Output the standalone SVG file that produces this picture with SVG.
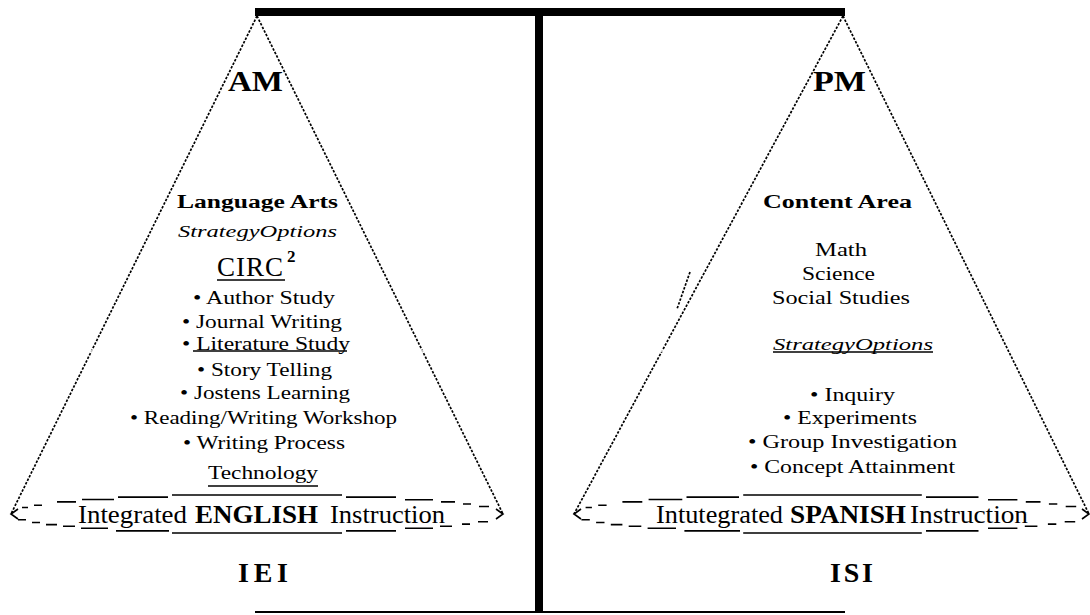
<svg xmlns="http://www.w3.org/2000/svg" width="1090" height="615" viewBox="0 0 1090 615">
<style>
.t{font-family:"Liberation Serif","Times New Roman",serif;fill:#000}
.b{font-weight:bold}
.i{font-style:italic}
.s18{font-size:18px}
.edge{stroke:#000;stroke-width:1.7;stroke-dasharray:2.5 1.5;fill:none}
.dash{stroke:#000;stroke-width:1.6;fill:none}
.ul{stroke:#000;stroke-width:1.3}
.wl{stroke:#fff;stroke-width:1.4}
</style>
<rect width="1090" height="615" fill="#fff"/>
<g id="balance">
<rect x="255" y="8" width="590" height="8" fill="#000"/>
<rect x="535" y="8" width="8" height="605" fill="#000"/>
<rect x="255" y="611" width="590" height="2" fill="#000"/>
</g>
<g id="connectors">
<path class="edge" d="M257 16 L11 514 M257 16 L503 514"/>
<path class="edge" d="M843 16 L574 514 M843 16 L1089 514"/>
<path class="edge" d="M690 272 L677 309"/>
<path class="wl" d="M60 351 H190 M350 351 H470 M610 351 H772"/>
</g>
<g id="am-cone">
<text class="t b" x="228" y="91" font-size="30" textLength="55" lengthAdjust="spacingAndGlyphs">AM</text>
<text class="t b" x="177" y="208" font-size="18" textLength="161" lengthAdjust="spacingAndGlyphs">Language Arts</text>
<text class="t i" x="178" y="237" font-size="17" textLength="159" lengthAdjust="spacingAndGlyphs">StrategyOptions</text>
<text class="t" x="217" y="276" font-size="27" textLength="66">CIRC</text>
<text class="t b" x="287" y="262" font-size="17">2</text>
<line class="ul" x1="217" y1="280" x2="285" y2="280"/>
<text class="t s18" x="193" y="304" textLength="142" lengthAdjust="spacingAndGlyphs">• Author Study</text>
<text class="t s18" x="182" y="328" textLength="160" lengthAdjust="spacingAndGlyphs">• Journal Writing</text>
<text class="t s18" x="182" y="350" textLength="168" lengthAdjust="spacingAndGlyphs">• Literature Study</text>
<line class="ul" x1="193" y1="351" x2="347" y2="351"/>
<text class="t s18" x="197" y="376" textLength="135" lengthAdjust="spacingAndGlyphs">• Story Telling</text>
<text class="t s18" x="180" y="399" textLength="170" lengthAdjust="spacingAndGlyphs">• Jostens Learning</text>
<text class="t s18" x="130" y="424" textLength="267" lengthAdjust="spacingAndGlyphs">• Reading/Writing Workshop</text>
<text class="t s18" x="183" y="449" textLength="162" lengthAdjust="spacingAndGlyphs">• Writing Process</text>
<text class="t s18" x="208" y="479" textLength="110" lengthAdjust="spacingAndGlyphs">Technology</text>
<line class="ul" x1="208" y1="486" x2="318" y2="486"/>
<path class="dash" d="M18 509 L11 514 L18 519
M22 507.5H28 M34 505.2H42 M57 501.9H76 M82 499.5H114 M118 497.1H168 M172 495H342 M346 497.1H396 M405 499.7H433 M441 501.9H455 M463 504H471 M479 506.5H489
M18 519.8H26 M32 522.5H40 M46 524.6H57 M63 526.3H75 M81 528.3H108 M116 530.9H169 M172 533H342 M346 530.9H396 M405 528.3H433 M440 526.2H452 M462 524.1H470 M478 521.7H488
M496 509 L503 514 L496 519"/>
<text class="t" y="523" font-size="26"><tspan x="78" textLength="109" lengthAdjust="spacingAndGlyphs">Integrated</tspan><tspan class="b" x="195" textLength="123" lengthAdjust="spacingAndGlyphs">ENGLISH</tspan><tspan x="330" textLength="115" lengthAdjust="spacingAndGlyphs">Instruction</tspan></text>
<text class="t b" x="238" y="582" font-size="28" textLength="50">IEI</text>
</g>
<g id="pm-cone">
<text class="t b" x="813" y="91" font-size="30" textLength="53" lengthAdjust="spacingAndGlyphs">PM</text>
<text class="t b" x="763" y="208" font-size="18" textLength="149" lengthAdjust="spacingAndGlyphs">Content Area</text>
<text class="t s18" x="815" y="256" textLength="52" lengthAdjust="spacingAndGlyphs">Math</text>
<text class="t s18" x="802" y="280" textLength="73" lengthAdjust="spacingAndGlyphs">Science</text>
<text class="t s18" x="772" y="304" textLength="138" lengthAdjust="spacingAndGlyphs">Social Studies</text>
<text class="t i" x="773" y="350" font-size="17" textLength="160" lengthAdjust="spacingAndGlyphs">StrategyOptions</text>
<line class="ul" x1="773" y1="352" x2="933" y2="352"/>
<text class="t s18" x="810" y="401" textLength="85" lengthAdjust="spacingAndGlyphs">• Inquiry</text>
<text class="t s18" x="783" y="424" textLength="134" lengthAdjust="spacingAndGlyphs">• Experiments</text>
<text class="t s18" x="748" y="448" textLength="209" lengthAdjust="spacingAndGlyphs">• Group Investigation</text>
<text class="t s18" x="750" y="473" textLength="205" lengthAdjust="spacingAndGlyphs">• Concept Attainment</text>
<path class="dash" d="M581 509 L574 514 L581 519
M585.6 507.5H591.9 M598.2 505.2H606.6 M622.4 501.9H642.3 M648.6 499.5H682.3 M686.5 497.1H739 M743.2 495H921.8 M926 497.1H978.5 M988 499.7H1017.4 M1025.8 501.9H1040.5 M1048.9 504H1057.3 M1065.7 506.5H1076.2
M581.4 519.8H589.8 M596.1 522.5H604.5 M610.8 524.6H622.4 M628.7 526.3H641.3 M647.6 528.3H676 M684.4 530.9H740 M743.2 533H921.8 M926 530.9H978.5 M988 528.3H1017.4 M1024.8 526.2H1037.4 M1047.9 524.1H1056.3 M1064.7 521.7H1075.2
M1082 509 L1089 514 L1082 519"/>
<text class="t" y="523" font-size="26"><tspan x="656" textLength="127" lengthAdjust="spacingAndGlyphs">Intutegrated</tspan><tspan class="b" x="790" textLength="116" lengthAdjust="spacingAndGlyphs">SPANISH</tspan><tspan x="910" textLength="118" lengthAdjust="spacingAndGlyphs">Instruction</tspan></text>
<text class="t b" x="830" y="582" font-size="28" textLength="43">ISI</text>
</g>
</svg>
